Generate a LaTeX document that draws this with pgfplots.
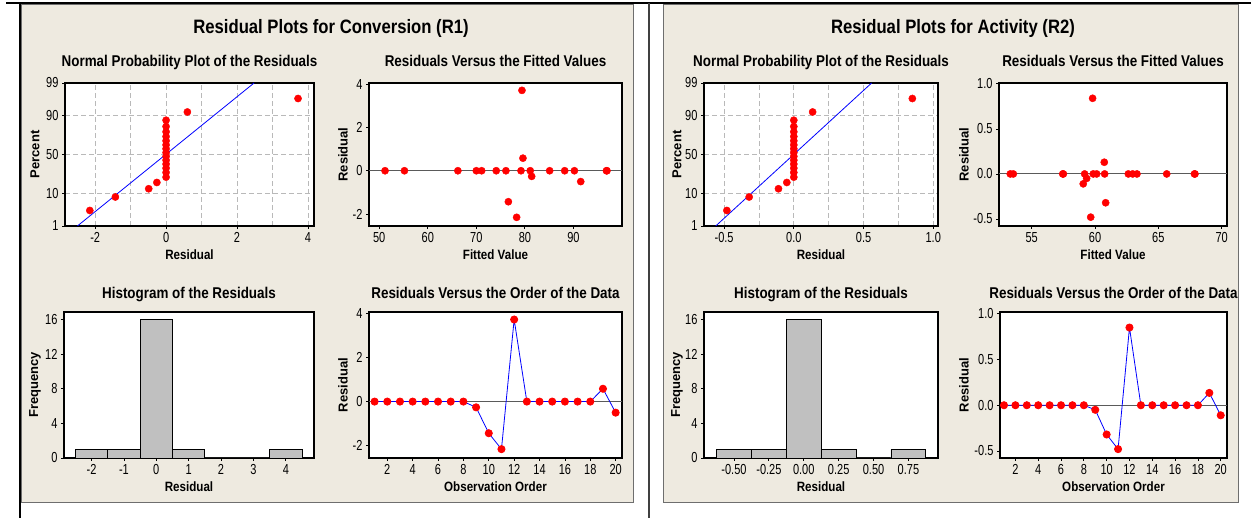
\documentclass[border=0pt]{standalone}
\usepackage{fontspec}
\setmainfont{Liberation Sans}[FakeStretch=0.86]
\newfontfamily\widefont{Liberation Sans}
\newfontfamily\tickfont{Liberation Sans}[FakeStretch=0.76]
\usepackage{pgfplots}
\pgfplotsset{compat=1.18}
\definecolor{panel}{RGB}{238,234,224}
\definecolor{gridc}{RGB}{185,185,185}
\definecolor{barc}{RGB}{192,192,192}
\definecolor{refc}{RGB}{90,90,90}
\definecolor{frame}{RGB}{110,110,110}

\pgfplotsset{
  base/.style={
    scale only axis, anchor=south west,
    axis background/.style={fill=white},
    axis line style={line width=1.2pt, black},
    tick align=outside, tick pos=left,
    major tick length=3pt, minor tick length=0pt,
    tick style={black, line width=0.8pt},
    tick label style={font=\tickfont\fontsize{14.5}{15}\selectfont},
    xticklabel style={yshift=0pt},
    /pgf/number format/assume math mode=true,
    every axis x label/.style={at={(axis description cs:0.5,0)}, yshift=-29pt, anchor=center, font=\bfseries\fontsize{13.5}{14}\selectfont},
    title style={font=\bfseries\fontsize{15.6}{16}\selectfont, at={(axis description cs:0.5,1)}, anchor=base},
    mark size=3.6pt,
  },
  ylab/.style={every axis y label/.style={at={(axis description cs:0,0.5)}, xshift=-#1, rotate=90, anchor=center, font=\widefont\bfseries\fontsize{13}{13}\selectfont}},
  pts/.style={only marks, mark=*, red, mark options={fill=red, draw=red}},
  ordl/.style={blue, line width=0.8pt, mark=*, mark options={fill=red, draw=red}},
  refl/.style={refc, line width=1.1pt, forget plot},
  hist/.style={ybar interval, fill=barc, draw=black, line width=0.8pt},
  npgrid/.style={xmajorgrids, xminorgrids, ymajorgrids,
    grid style={gridc, dash pattern=on 5pt off 3pt, line width=0.8pt},
    minor grid style={gridc, dash pattern=on 5pt off 3pt, line width=0.8pt}},
}

\begin{document}
\begin{tikzpicture}
\useasboundingbox (0pt,0pt) rectangle (1251pt,518pt);
\fill[white] (0pt,0pt) rectangle (1251pt,518pt);
\fill[panel] (21pt,15pt) rectangle (633pt,513pt);
\draw[frame, line width=1pt] (21pt,15pt) rectangle (633pt,513pt);
\draw[black, line width=1.3pt] (20pt,0pt) -- (20pt,515pt);
\draw[black, line width=1.5pt] (6pt,515pt) -- (1251pt,515pt);
\draw[black!75, line width=1.5pt] (649pt,0pt) -- (649pt,515pt);
\fill[panel] (663pt,15pt) rectangle (1238pt,513pt);
\draw[frame, line width=1pt] (663pt,15pt) rectangle (1238pt,513pt);

\node[font=\bfseries\fontsize{19.4}{20}\selectfont, anchor=base] at (331pt,484pt) {Residual Plots for Conversion (R1)};
\node[font=\bfseries\fontsize{19.4}{20}\selectfont, anchor=base] at (953pt,484pt) {Residual Plots for Activity (R2)};

% ---------- R1: normal probability plot
\begin{axis}[base, npgrid, ylab=30pt, at={(65pt,292pt)}, width=249pt, height=143pt,
  xmin=-2.85, xmax=4.17, ymin=-2.326, ymax=2.326,
  xtick={-2,0,2,4}, xticklabels={-2,0,2,4}, minor xtick={-1,1,3},
  ytick={-2.326,-1.2816,0,1.2816,2.326}, yticklabels={1,10,50,90,99},
  title={Normal Probability Plot of the Residuals}, title style={yshift=10pt},
  xlabel={Residual}, ylabel={Percent}]
\addplot[blue, line width=0.8pt] coordinates {(-2.50,-2.326) (2.48,2.326)};
\addplot[pts] coordinates {
(-2.15,-1.8212) (-1.43,-1.3830) (-0.49,-1.1145) (-0.26,-0.9104)
(0,-0.7375) (0,-0.5847) (0,-0.4446) (0,-0.3120) (0,-0.1857) (0,-0.0615) (0,0.0615)
(0,0.1857) (0,0.3120) (0,0.4446) (0,0.5847) (0,0.7375) (0,0.9104) (0,1.1145)
(0.60,1.3830) (3.72,1.8212)};
\end{axis}

% ---------- R1: residuals vs fitted
\begin{axis}[base, ylab=26pt, at={(369pt,292pt)}, width=253pt, height=143pt,
  xmin=47.9, xmax=100, ymin=-2.55, ymax=4.05,
  xtick={50,60,70,80,90}, xticklabels={50,60,70,80,90},
  ytick={-2,0,2,4}, yticklabels={-2,0,2,4},
  title={Residuals Versus the Fitted Values}, title style={yshift=10pt},
  xlabel={Fitted Value}, ylabel={Residual}]
\addplot[refl] coordinates {(47.9,0) (100,0)};
\addplot[pts] coordinates {
(51.2,0) (55.2,0) (66.2,0) (70.0,0) (71.1,0) (74.1,0) (76.1,0) (76.6,-1.43)
(78.3,-2.15) (79.2,0) (79.4,3.71) (79.6,0.58) (81.1,0) (81.4,-0.26) (85.1,0)
(88.2,0) (90.2,0) (91.5,-0.50) (96.9,0) (96.8,0)};
\end{axis}

% ---------- R1: histogram
\begin{axis}[base, ylab=29pt, at={(64pt,60pt)}, width=250pt, height=146pt,
  xmin=-2.85, xmax=4.87, ymin=0, ymax=16.85,
  xtick={-2,-1,0,1,2,3,4}, xticklabels={-2,-1,0,1,2,3,4},
  ytick={0,4,8,12,16}, yticklabels={0,4,8,12,16},
  title={Histogram of the Residuals}, title style={yshift=7pt},
  xlabel={Residual}, ylabel={Frequency}]
\addplot[hist] coordinates {(-2.5,1) (-1.5,1) (-0.5,16) (0.5,1) (1.5,0) (2.5,0) (3.5,1) (4.5,1)};
\end{axis}

% ---------- R1: residuals vs order
\begin{axis}[base, ylab=26pt, at={(369pt,60pt)}, width=253pt, height=146pt,
  xmin=0.56, xmax=20.5, ymin=-2.55, ymax=4.05,
  xtick={2,4,...,20}, xticklabels={2,4,6,8,10,12,14,16,18,20},
  ytick={-2,0,2,4}, yticklabels={-2,0,2,4},
  title={Residuals Versus the Order of the Data}, title style={yshift=7pt},
  xlabel={Observation Order}, ylabel={Residual}]
\addplot[refl] coordinates {(0.56,0) (20.5,0)};
\addplot[ordl] coordinates {
(1,0) (2,0) (3,0) (4,0) (5,0) (6,0) (7,0) (8,0) (9,-0.26) (10,-1.43)
(11,-2.15) (12,3.71) (13,0) (14,0) (15,0) (16,0) (17,0) (18,0) (19,0.58) (20,-0.50)};
\end{axis}

% ---------- R2: normal probability plot
\begin{axis}[base, npgrid, ylab=27pt, at={(704pt,292pt)}, width=234pt, height=143pt,
  xmin=-0.644, xmax=1.034, ymin=-2.326, ymax=2.326,
  xtick={-0.5,0,0.5,1}, xticklabels={-0.5,0.0,0.5,1.0}, minor xtick={-0.25,0.25,0.75},
  ytick={-2.326,-1.2816,0,1.2816,2.326}, yticklabels={1,10,50,90,99},
  title={Normal Probability Plot of the Residuals}, title style={yshift=10pt},
  xlabel={Residual}, ylabel={Percent}]
\addplot[blue, line width=0.8pt] coordinates {(-0.56,-2.326) (0.558,2.326)};
\addplot[pts] coordinates {
(-0.48,-1.8212) (-0.32,-1.3830) (-0.11,-1.1145) (-0.05,-0.9104)
(0,-0.7375) (0,-0.5847) (0,-0.4446) (0,-0.3120) (0,-0.1857) (0,-0.0615) (0,0.0615)
(0,0.1857) (0,0.3120) (0,0.4446) (0,0.5847) (0,0.7375) (0,0.9104) (0,1.1145)
(0.135,1.3830) (0.85,1.8212)};
\end{axis}

% ---------- R2: residuals vs fitted
\begin{axis}[base, ylab=35pt, at={(999pt,292pt)}, width=228pt, height=143pt,
  xmin=52.42, xmax=70.42, ymin=-0.578, ymax=1.01,
  xtick={55,60,65,70}, xticklabels={55,60,65,70},
  ytick={-0.5,0,0.5,1}, yticklabels={-0.5,0.0,0.5,1.0},
  title={Residuals Versus the Fitted Values}, title style={yshift=10pt},
  xlabel={Fitted Value}, ylabel={Residual}]
\addplot[refl] coordinates {(52.42,0) (70.42,0)};
\addplot[pts] coordinates {
(53.31,0) (53.55,0) (57.50,0) (57.45,0) (59.07,-0.11) (59.18,0) (59.34,-0.05)
(59.66,-0.48) (59.81,0.84) (59.86,0) (60.13,0) (60.73,0.13) (60.76,0) (60.84,-0.32)
(62.63,0) (62.97,0) (63.31,0) (65.66,0) (67.89,0) (67.85,0)};
\end{axis}

% ---------- R2: histogram
\begin{axis}[base, ylab=27pt, at={(704pt,60pt)}, width=234pt, height=146pt,
  xmin=-0.715, xmax=0.962, ymin=0, ymax=16.85,
  xtick={-0.5,-0.25,0,0.25,0.5,0.75}, xticklabels={-0.50,-0.25,0.00,0.25,0.50,0.75},
  ytick={0,4,8,12,16}, yticklabels={0,4,8,12,16},
  title={Histogram of the Residuals}, title style={yshift=7pt},
  xlabel={Residual}, ylabel={Frequency}]
\addplot[hist] coordinates {(-0.625,1) (-0.375,1) (-0.125,16) (0.125,1) (0.375,0) (0.625,1) (0.875,1)};
\end{axis}

% ---------- R2: residuals vs order
\begin{axis}[base, ylab=36pt, at={(1000pt,60pt)}, width=227pt, height=146pt,
  xmin=0.65, xmax=20.55, ymin=-0.577, ymax=1.02,
  xtick={2,4,...,20}, xticklabels={2,4,6,8,10,12,14,16,18,20},
  ytick={-0.5,0,0.5,1}, yticklabels={-0.5,0.0,0.5,1.0},
  title={Residuals Versus the Order of the Data}, title style={yshift=7pt},
  xlabel={Observation Order}, ylabel={Residual}]
\addplot[refl] coordinates {(0.65,0) (20.55,0)};
\addplot[ordl] coordinates {
(1,0) (2,0) (3,0) (4,0) (5,0) (6,0) (7,0) (8,0) (9,-0.05) (10,-0.32)
(11,-0.48) (12,0.85) (13,0) (14,0) (15,0) (16,0) (17,0) (18,0) (19,0.135) (20,-0.11)};
\end{axis}
\end{tikzpicture}
\end{document}
